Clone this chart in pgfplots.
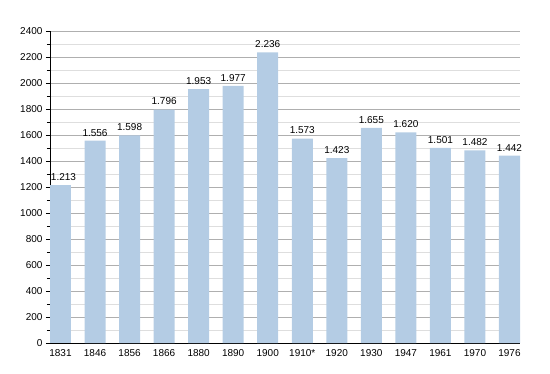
\documentclass[border=0pt]{standalone}
\usepackage{pgfplots}
\pgfplotsset{compat=1.18}
\usepackage{fontspec}
\setmainfont{Liberation Sans}
\definecolor{barblue}{RGB}{180,204,228}
\definecolor{majgrid}{RGB}{175,175,175}
\definecolor{mingrid}{RGB}{222,222,222}
\begin{document}
\begin{tikzpicture}
\begin{axis}[
  scale only axis, width=470pt, height=312pt,
  xmin=-0.304, xmax=13.304, ymin=0, ymax=2400,
  axis x line*=bottom, axis y line*=left,
  axis line style={black, line width=0.8pt},
  xtick={0,...,13},
  xticklabels={1831,1846,1856,1866,1880,1890,1900,1910*,1920,1930,1947,1961,1970,1976},
  x tick style={draw=none},
  ytick={0,200,...,2400},
  minor y tick num=1,
  ymajorgrids, yminorgrids,
  major grid style={majgrid, line width=0.6pt},
  minor grid style={mingrid, line width=0.6pt},
  y tick style={black, line width=0.6pt},
  tick align=outside,
  major tick length=4pt, minor tick length=3pt,
  tick label style={font=\fontsize{10}{12}\selectfont},
  /pgf/number format/assume math mode=true,
  yticklabel style={/pgf/number format/1000 sep={}},
  xticklabel style={yshift=1pt},
  ybar, bar width=0.609, bar shift=0pt,
  nodes near coords,
  every node near coord/.append style={font=\fontsize{10}{12}\selectfont, /pgf/number format/1000 sep={.}, yshift=1pt},
  clip=false,
]
\addplot[fill=barblue, draw=none, every node near coord/.append style={xshift=3pt}] coordinates {
(0,1213)
};
\addplot[fill=barblue, draw=none] coordinates {
(1,1556) (2,1598) (3,1796) (4,1953) (5,1977) (6,2236) (7,1573) (8,1423) (9,1655) (10,1620) (11,1501) (12,1482) (13,1442)
};
\end{axis}
\path (-50pt,-30pt) rectangle (500pt,343pt);
\end{tikzpicture}
\end{document}
